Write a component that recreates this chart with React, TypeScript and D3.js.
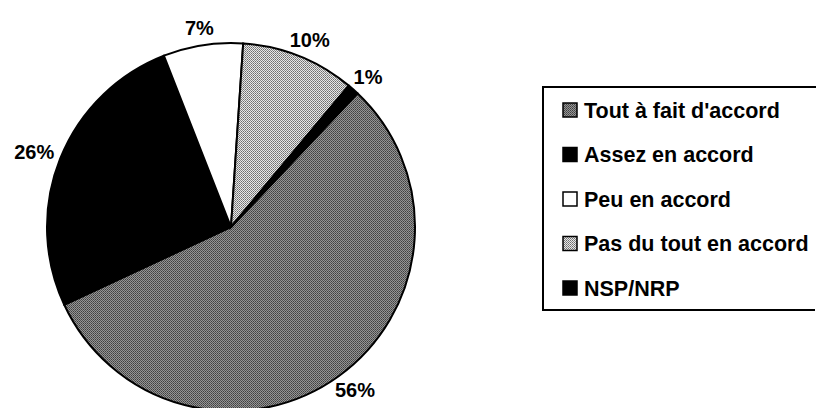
import React from "react";
import * as d3 from "d3";

// values
const categories = [
  "Tout à fait d'accord",
  "Assez en accord",
  "Peu en accord",
  "Pas du tout en accord",
  "NSP/NRP",
];
const values = [56, 26, 7, 10, 1];
const fills = ["url(#dither-dark)", "#000", "#fff", "url(#dither-light)", "#000"];

const width = 818;
const height = 408;
const cx = 231;
const cy = 227;
const radius = 184;
const labelFont = 20;

const App = () => {
  const startDeg = 43.4;
  const pie = d3
    .pie<number>()
    .sort(null)
    .startAngle((startDeg * Math.PI) / 180)
    .endAngle((startDeg * Math.PI) / 180 + 2 * Math.PI);
  const arcs = pie(values);
  const arc = d3.arc<d3.PieArcDatum<number>>().innerRadius(0).outerRadius(radius);
  const anchorArc = d3
    .arc<d3.PieArcDatum<number>>()
    .innerRadius(radius + 8)
    .outerRadius(radius + 8);

  // outside-end labels: push the label box away from the circle like Excel does
  const labelPos = (a: d3.PieArcDatum<number>) => {
    const [ax, ay] = anchorArc.centroid(a);
    const mid = (a.startAngle + a.endAngle) / 2;
    const txt = `${a.data}%`;
    const w = ((txt.length - 1) * 0.556 + 0.889) * labelFont;
    const h = labelFont * 0.9;
    return [ax + (Math.sin(mid) * w) / 2, ay - (Math.cos(mid) * h) / 2];
  };

  const legendX = 543;
  const legendTop = 87;
  const legendBottom = 310;
  const rowY = d3.scalePoint<string>().domain(categories).range([110, 288]);

  return (
    <svg
      width={width}
      height={height}
      style={{ position: "absolute", left: 0, top: 0, background: "#fff" }}
      fontFamily="'Liberation Sans', Arial, sans-serif"
      fontWeight="bold"
    >
      <defs>
        <pattern id="dither-dark" width="2" height="2" patternUnits="userSpaceOnUse">
          <rect width="2" height="2" fill="#959595" />
          <rect width="1" height="1" fill="#404040" />
          <rect x="1" y="1" width="1" height="1" fill="#555" />
        </pattern>
        <pattern id="dither-light" width="2" height="2" patternUnits="userSpaceOnUse">
          <rect width="2" height="2" fill="#e8e8e8" />
          <rect width="1" height="1" fill="#6e6e6e" />
          <rect x="1" y="1" width="1" height="1" fill="#8a8a8a" />
        </pattern>
      </defs>

      <g transform={`translate(${cx},${cy})`}>
        {arcs.map((a, i) => (
          <path key={i} d={arc(a) || ""} fill={fills[i]} stroke="#000" strokeWidth={2} />
        ))}
        {arcs.map((a, i) => {
          const [x, y] = labelPos(a);
          return (
            <text key={"l" + i} x={x} y={y} dy="0.35em" textAnchor="middle" fontSize={labelFont}>
              {values[i]}%
            </text>
          );
        })}
      </g>

      <path
        d={`M${width - 2},${legendTop}H${legendX}V${legendBottom}H${width - 3}`}
        fill="none"
        stroke="#000"
        strokeWidth={2}
      />
      {categories.map((c, i) => {
        const y = rowY(c) as number;
        return (
          <g key={c}>
            <rect
              x={legendX + 20}
              y={y - 7}
              width={14}
              height={14}
              fill={fills[i]}
              stroke="#000"
              strokeWidth={1.5}
            />
            <text x={legendX + 41} y={y} dy="0.35em" fontSize={21.5}>
              {c}
            </text>
          </g>
        );
      })}
    </svg>
  );
};

export default App;
